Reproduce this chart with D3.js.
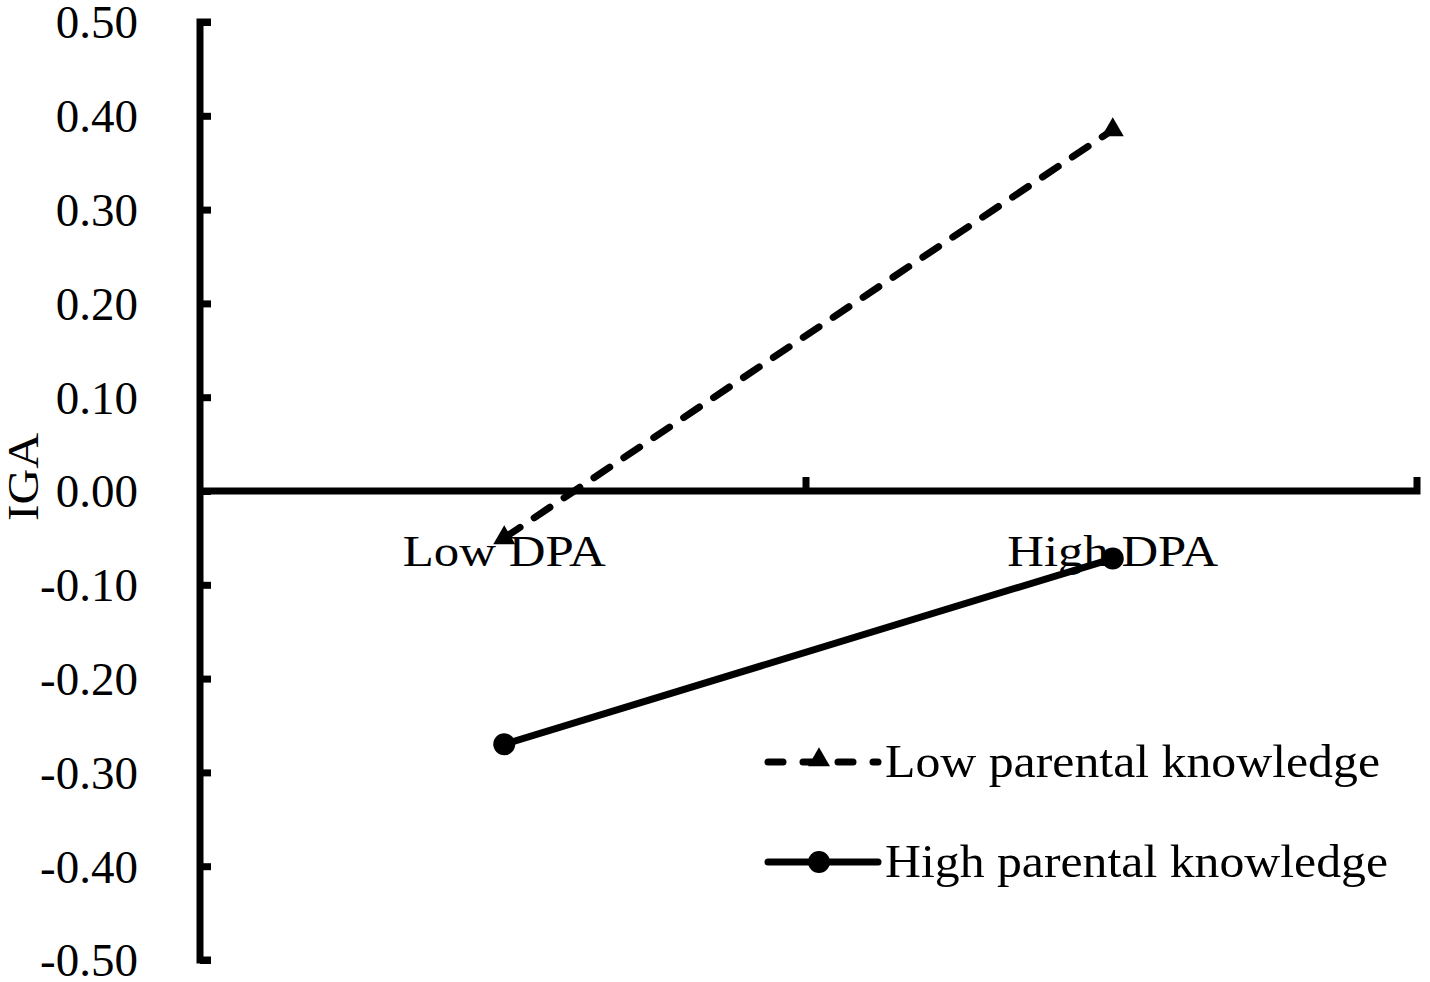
<!DOCTYPE html>
<html>
<head>
<meta charset="utf-8">
<script src="https://cdn.jsdelivr.net/npm/d3@7"></script>
<style>
  body { margin: 0; background: #fff; }
  text { font-family: "Liberation Serif", "Times New Roman", serif; fill: #000; }
</style>
</head>
<body>
<script>
const categories = ["Low DPA", "High DPA"];
const seriesNames = ["Low parental knowledge", "High parental knowledge"];
const lowKnowledge = [-0.05, 0.385];
const highKnowledge = [-0.27, -0.072];
const yTicks = [0.5, 0.4, 0.3, 0.2, 0.1, 0, -0.1, -0.2, -0.3, -0.4, -0.5];

let width = 1430;
let height = 982;
let svg = d3.select("body").append("svg").attr("width", width).attr("height", height);

let xScale = d3.scaleBand().domain(categories).range([200, 1417]);
let yScale = d3.scaleLinear().domain([-0.5, 0.5]).range([960, 22]);

// y axis
let yAxis = d3.axisRight(yScale).tickValues(yTicks).tickSize(11).tickFormat(d => d.toFixed(2));
svg.append("g")
  .attr("transform", "translate(200,0)")
  .call(yAxis)
  .call(g => g.select(".domain").attr("stroke-width", 7).attr("d", `M11,${yScale(0.5)}H0V${yScale(-0.5)}H11`))
  .call(g => g.selectAll(".tick line").attr("stroke-width", 7))
  .call(g => g.selectAll(".tick text")
    .attr("x", -62).attr("text-anchor", "end").attr("dy", "0.34em")
    .style("font-size", "47px").style("font-family", "Liberation Serif"));

// x axis at 0
let xAxis = d3.axisTop(xScale).tickSize(0).tickFormat("");
svg.append("g")
  .attr("transform", `translate(0,${yScale(0)})`)
  .call(xAxis)
  .call(g => g.select(".domain").attr("stroke-width", 7).attr("d", `M197,0H1417V-14`))
  .call(g => g.selectAll(".tick").remove())
  .call(g => g.append("line").attr("x1", 806).attr("x2", 806).attr("y1", 0).attr("y2", -14)
    .attr("stroke", "#000").attr("stroke-width", 7));

// category labels
const catWidths = [203, 211];
svg.append("g").selectAll("text").data(categories).join("text")
  .attr("x", d => xScale(d) + xScale.bandwidth() / 2)
  .attr("y", 566)
  .attr("text-anchor", "middle")
  .attr("textLength", (d, i) => catWidths[i])
  .attr("lengthAdjust", "spacingAndGlyphs")
  .style("font-size", "44px")
  .text(d => d);

// y title
svg.append("text")
  .attr("transform", `translate(38,${yScale(0.015)}) rotate(-90)`)
  .attr("text-anchor", "middle")
  .attr("textLength", 88)
  .attr("lengthAdjust", "spacingAndGlyphs")
  .style("font-size", "45px")
  .text("IGA");

let line = d3.line()
  .x((d, i) => xScale(categories[i]) + xScale.bandwidth() / 2)
  .y(d => yScale(d));

svg.append("path").attr("d", line(lowKnowledge))
  .attr("fill", "none").attr("stroke", "#000").attr("stroke-width", 7)
  .attr("stroke-dasharray", "19,17").attr("stroke-linecap", "round");
svg.append("path").attr("d", line(highKnowledge))
  .attr("fill", "none").attr("stroke", "#000").attr("stroke-width", 7);

let tri = d3.symbol().type(d3.symbolTriangle).size(210);
svg.append("g").selectAll("path").data(lowKnowledge).join("path")
  .attr("transform", (d, i) => `translate(${xScale(categories[i]) + xScale.bandwidth() / 2},${yScale(d)})`)
  .attr("d", tri).attr("fill", "#000");
svg.append("g").selectAll("circle").data(highKnowledge).join("circle")
  .attr("cx", (d, i) => xScale(categories[i]) + xScale.bandwidth() / 2)
  .attr("cy", d => yScale(d))
  .attr("r", 11).attr("fill", "#000");

// legend
const legWidths = [495, 503];
let legend = svg.append("g");
[0, 1].forEach(i => {
  let y = 762 + i * 100;
  legend.append("line").attr("x1", 768).attr("x2", 878).attr("y1", y).attr("y2", y)
    .attr("stroke", "#000").attr("stroke-width", 7)
    .attr("stroke-linecap", "round")
    .attr("stroke-dasharray", i === 0 ? "15,20" : null);
  if (i === 0) {
    legend.append("path").attr("transform", `translate(819,${y - 2})`).attr("d", tri).attr("fill", "#000");
  } else {
    legend.append("circle").attr("cx", 819).attr("cy", y).attr("r", 11).attr("fill", "#000");
  }
  legend.append("text").attr("x", 885).attr("y", y + 15)
    .attr("textLength", legWidths[i])
    .attr("lengthAdjust", "spacingAndGlyphs")
    .style("font-size", "47px").text(seriesNames[i]);
});
</script>
</body>
</html>
